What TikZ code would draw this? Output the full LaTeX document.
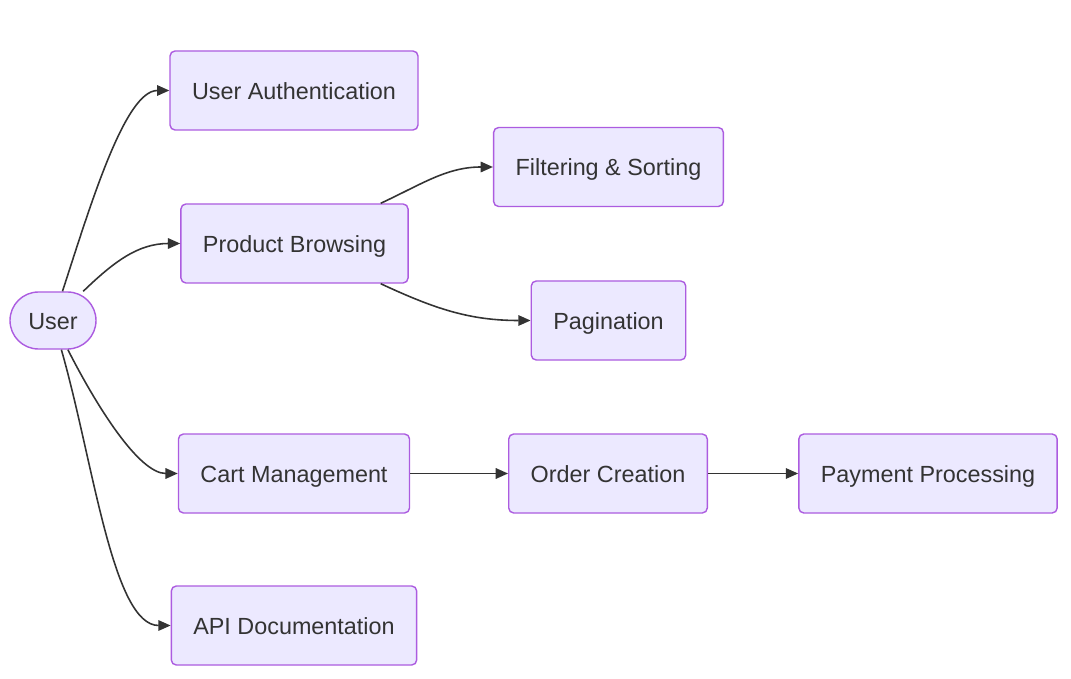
\documentclass[tikz,border=0pt]{standalone}
\usepackage{fontspec}
\setmainfont{Liberation Sans}
\usetikzlibrary{arrows.meta}
\definecolor{box_fill}{RGB}{236,233,255}
\definecolor{box_line}{RGB}{172,92,224}
\definecolor{ink}{RGB}{51,51,51}

\tikzset{
  box/.style={draw=box_line, fill=box_fill, line width=0.8pt, rounded corners=0.1cm,
    minimum height=1.58cm, inner xsep=0.44cm, text height=9.7pt, text depth=0pt,
    text=ink, font=\fontsize{13.3}{16}\selectfont},
  flow/.style={draw=ink, line width=0.9pt, -{Triangle[length=7pt,width=6pt]}},
}

\begin{document}
\begin{tikzpicture}
\useasboundingbox (0,0) rectangle (21.42,13.56);

% entry point
\node[box, rounded corners=0.57cm, minimum width=1.72cm, minimum height=1.14cm, inner xsep=0pt] (user) at (1.06,7.15) {User};

% features
\node[box] (auth) at (5.88,11.75) {User Authentication};
\node[box] (browse) at (5.89,8.69) {Product Browsing};
\node[box] (filter) at (12.17,10.22) {Filtering \& Sorting};
\node[box] (pages) at (12.17,7.15) {Pagination};
\node[box] (cart) at (5.88,4.09) {Cart Management};
\node[box] (order) at (12.16,4.09) {Order Creation};
\node[box] (payment) at (18.56,4.09) {Payment Processing};
\node[box] (api) at (5.88,1.05) {API Documentation};

\draw[flow] (user.72) to[out=72, in=180, in looseness=0.5] (auth.west);
\draw[flow] (user.44) to[out=44, in=180] (browse.west);
\draw[flow] (user.-63) to[out=-63, in=180, in looseness=0.6] (cart.west);
\draw[flow] (user.-74) to[out=-74, in=180, in looseness=0.5] (api.west);

\draw[flow] (browse.25) to[out=25, in=180] (filter.west);
\draw[flow] (browse.-25) to[out=-25, in=180] (pages.west);

\draw[flow] (cart) -- (order);
\draw[flow] (order) -- (payment);
\end{tikzpicture}
\end{document}
